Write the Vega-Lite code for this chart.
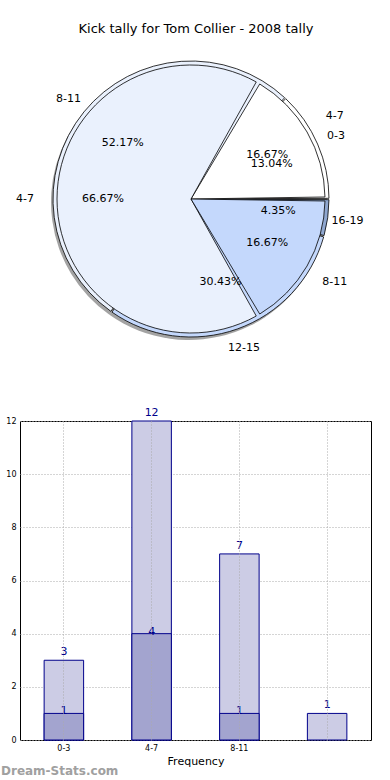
{
  "$schema": "https://vega.github.io/schema/vega-lite/v6.json",
  "padding": {"left": 0, "top": 23, "right": 0, "bottom": 0},
  "background": "white",
  "config": {"font": "DejaVu Sans", "view": {"stroke": null}},
  "datasets": {
    "outer": [
      {"slice": 1, "label": "0-3", "count": 3, "pct": "13.04%"},
      {"slice": 2, "label": "8-11", "count": 12, "pct": "52.17%"},
      {"slice": 3, "label": "12-15", "count": 7, "pct": "30.43%"},
      {"slice": 4, "label": "16-19", "count": 1, "pct": "4.35%"}
    ],
    "inner": [
      {"slice": 1, "label": "4-7", "count": 1, "pct": "16.67%"},
      {"slice": 2, "label": "4-7", "count": 4, "pct": "66.67%"},
      {"slice": 3, "label": "8-11", "count": 1, "pct": "16.67%"}
    ],
    "bars": [
      {"group": "0-3", "total": 3, "part": 1},
      {"group": "4-7", "total": 12, "part": 4},
      {"group": "8-11", "total": 7, "part": 1},
      {"group": "16-19", "total": 1, "part": null}
    ]
  },
  "bounds": "flush",
  "spacing": 72,
  "vconcat": [
    {
      "width": 342,
      "height": 300,
      "title": {"text": "Kick tally for Tom Collier - 2008 tally", "fontSize": 13, "fontWeight": "normal", "offset": 13, "anchor": "middle", "dx": 5, "font": "DejaVu Sans"},
      "resolve": {"scale": {"theta": "independent"}},
      "layer": [
        {
          "data": {"name": "outer"},
          "mark": {"type": "arc", "outerRadius": 138, "fill": "#666666", "opacity": 0.6, "xOffset": -2, "yOffset": 3},
          "encoding": {
            "theta": {"field": "count", "type": "quantitative", "stack": true, "scale": {"range": [1.5708, -4.7124]}},
            "order": {"field": "slice", "type": "quantitative"}
          }
        },
        {
          "data": {"name": "outer"},
          "mark": {"type": "arc", "outerRadius": 138, "stroke": "#000000", "strokeWidth": 0.8, "padAngle": 0.01},
          "encoding": {
            "theta": {"field": "count", "type": "quantitative", "stack": true, "scale": {"range": [1.5708, -4.7124]}},
            "order": {"field": "slice", "type": "quantitative"},
            "color": {"field": "slice", "type": "nominal", "legend": null, "scale": {"domain": [1, 2, 3, 4], "range": ["#ffffff", "#eaf1fd", "#c4d8fc", "#8fa7d0"]}}
          }
        },
        {
          "data": {"name": "inner"},
          "mark": {"type": "arc", "outerRadius": 134, "stroke": "#000000", "strokeWidth": 0.8, "padAngle": 0.03},
          "encoding": {
            "theta": {"field": "count", "type": "quantitative", "stack": true, "scale": {"range": [1.5708, -4.7124]}},
            "order": {"field": "slice", "type": "quantitative"},
            "color": {"field": "slice", "type": "nominal", "legend": null, "scale": {"domain": [1, 2, 3, 4], "range": ["#ffffff", "#eaf1fd", "#c4d8fc", "#8fa7d0"]}}
          }
        },
        {
          "data": {"name": "outer"},
          "mark": {"type": "text", "radius": 158, "fontSize": 11, "color": "#000000"},
          "encoding": {
            "theta": {"field": "count", "type": "quantitative", "stack": true, "scale": {"range": [1.5708, -4.7124]}},
            "order": {"field": "slice", "type": "quantitative"},
            "text": {"field": "label"}
          }
        },
        {
          "data": {"name": "outer"},
          "mark": {"type": "text", "radius": 88, "fontSize": 11, "color": "#000000"},
          "encoding": {
            "theta": {"field": "count", "type": "quantitative", "stack": true, "scale": {"range": [1.5708, -4.7124]}},
            "order": {"field": "slice", "type": "quantitative"},
            "text": {"field": "pct"}
          }
        },
        {
          "data": {"name": "inner"},
          "mark": {"type": "text", "radius": 166, "fontSize": 11, "color": "#000000"},
          "encoding": {
            "theta": {"field": "count", "type": "quantitative", "stack": true, "scale": {"range": [1.5708, -4.7124]}},
            "order": {"field": "slice", "type": "quantitative"},
            "text": {"field": "label"}
          }
        },
        {
          "data": {"name": "inner"},
          "mark": {"type": "text", "radius": 88, "fontSize": 11, "color": "#000000"},
          "encoding": {
            "theta": {"field": "count", "type": "quantitative", "stack": true, "scale": {"range": [1.5708, -4.7124]}},
            "order": {"field": "slice", "type": "quantitative"},
            "text": {"field": "pct"}
          }
        }
      ]
    },
    {
      "width": 351,
      "height": 319,
      "data": {"name": "bars"},
      "title": {"text": "Dream-Stats.com", "orient": "bottom", "anchor": "start", "dx": 0, "fontSize": 12, "fontWeight": "bold", "color": "#a0a0a0", "offset": 0},
      "view": {"stroke": "#000000", "strokeWidth": 1},
      "encoding": {
        "x": {
          "field": "group", "type": "nominal", "sort": null,
          "scale": {"paddingInner": 0.55, "paddingOuter": 0.275},
          "axis": {"title": "Frequency", "labelAngle": 0, "labelFontSize": 8, "titleFontSize": 11, "titleFontWeight": "normal", "grid": true, "gridDash": [1, 2], "gridColor": "#aaaaaa", "ticks": false, "domain": false, "labelPadding": 4, "titlePadding": 3, "labelExpr": "datum.value == '16-19' ? '' : datum.value", "zindex": 1}
        }
      },
      "layer": [
        {
          "mark": {"type": "bar", "fill": "#cccce5", "stroke": "#00008b", "strokeWidth": 1},
          "encoding": {
            "y": {"field": "total", "type": "quantitative", "title": null, "scale": {"domain": [0, 12]},
              "axis": {"values": [0, 2, 4, 6, 8, 10, 12], "labelFontSize": 8, "grid": true, "gridDash": [1, 2], "gridColor": "#aaaaaa", "ticks": false, "domain": false, "labelPadding": 4, "minExtent": 19, "maxExtent": 19}}
          }
        },
        {
          "transform": [{"filter": "datum.part != null"}],
          "mark": {"type": "bar", "fill": "#a3a4cf", "stroke": "#00008b", "strokeWidth": 1},
          "encoding": {"y": {"field": "part", "type": "quantitative", "title": null}}
        },
        {
          "mark": {"type": "text", "baseline": "bottom", "dy": -3, "fontSize": 11, "color": "#00008b"},
          "encoding": {"y": {"field": "total", "type": "quantitative", "title": null}, "text": {"field": "total"}}
        },
        {
          "transform": [{"filter": "datum.part != null"}],
          "mark": {"type": "text", "baseline": "middle", "dy": -2, "fontSize": 11, "color": "#00008b"},
          "encoding": {"y": {"field": "part", "type": "quantitative", "title": null}, "text": {"field": "part"}}
        }
      ]
    }
  ]
}
